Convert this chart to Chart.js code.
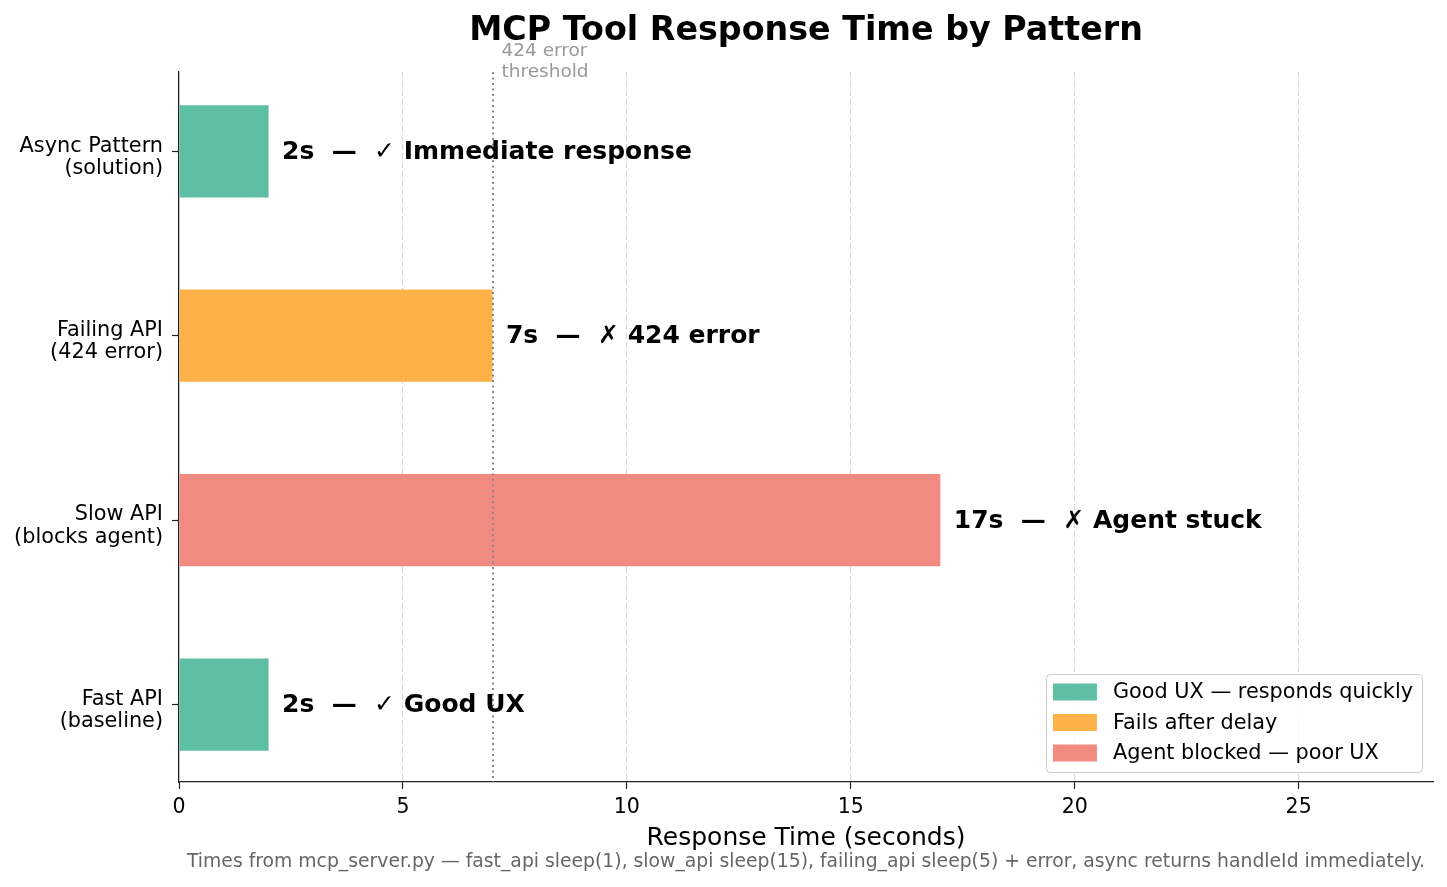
<!DOCTYPE html>
<html>
<head>
<meta charset="utf-8">
<title>MCP Tool Response Time by Pattern</title>
<script src="https://cdn.jsdelivr.net/npm/chart.js@4.4.1/dist/chart.umd.min.js"></script>
<style>
	html, body { margin: 0; padding: 0; background: #fff; }
	#wrap { width: 1447px; height: 887px; }
</style>
</head>
<body>
<div id="wrap"><canvas id="chart" width="1447" height="887"></canvas></div>
<script>
// bottom to top, same order as the y positions 0..3
const patterns = [
	"Fast API\n(baseline)",
	"Slow API\n(blocks agent)",
	"Failing API\n(424 error)",
	"Async Pattern\n(solution)",
];
const responseSeconds = [2, 17, 7, 2];
const outcomes = ["✓ Good UX", "✗ Agent stuck", "✗ 424 error", "✓ Immediate response"];
const barColors = ["#5ebfa5", "#f18b81", "#feb148", "#5ebfa5"];

const xTicks = [0, 5, 10, 15, 20, 25];
const xMax = 28;

const thresholdSeconds = 7;
const thresholdLabel = ["424 error", "threshold"];

const legendLabels = ["Good UX — responds quickly", "Fails after delay", "Agent blocked — poor UX"];
const legendColors = ["#5ebfa5", "#feb148", "#f18b81"];

const chartTitle = "MCP Tool Response Time by Pattern";
const footnote = "Times from mcp_server.py — fast_api sleep(1), slow_api sleep(15), failing_api sleep(5) + error, async returns handleId immediately.";

const FONT = '"DejaVu Sans", "Liberation Sans", sans-serif';
Chart.defaults.font.family = FONT;
Chart.defaults.color = "#000";

const overlay = {
	id: "overlay",
	afterDatasetsDraw(chart) {
		const { ctx, chartArea, scales } = chart;
		const { x, y } = scales;

		// threshold line
		const tx = Math.round(x.getPixelForValue(thresholdSeconds));
		ctx.save();
		ctx.strokeStyle = "#888888";
		ctx.lineWidth = 2;
		ctx.setLineDash([2, 3.5]);
		ctx.beginPath();
		ctx.moveTo(tx, chartArea.top);
		ctx.lineTo(tx, chartArea.bottom);
		ctx.stroke();
		ctx.restore();

		ctx.save();
		ctx.font = `18.5px ${FONT}`;
		ctx.fillStyle = "#999";
		ctx.textAlign = "left";
		ctx.textBaseline = "middle";
		const lx = x.getPixelForValue(thresholdSeconds + 0.2);
		thresholdLabel.forEach((t, i) => {
			ctx.fillText(t, lx, chartArea.top - 21 + i * 21);
		});
		ctx.restore();

		// value labels next to bars
		ctx.save();
		ctx.font = `bold 25px ${FONT}`;
		ctx.fillStyle = "#000";
		ctx.textAlign = "left";
		ctx.textBaseline = "middle";
		responseSeconds.forEach((v, i) => {
			ctx.fillText(`${v}s  —  ${outcomes[i]}`, x.getPixelForValue(v + 0.3), y.getPixelForValue(i) + 1);
		});
		ctx.restore();
	},
	afterDraw(chart) {
		const { ctx, chartArea } = chart;
		const cx = (chartArea.left + chartArea.right) / 2;

		ctx.save();
		ctx.textAlign = "center";
		ctx.textBaseline = "middle";
		ctx.fillStyle = "#000";
		ctx.font = `bold 33.3px ${FONT}`;
		ctx.fillText(chartTitle, cx, 31);

		ctx.fillStyle = "#666";
		ctx.font = `18.8px ${FONT}`;
		ctx.fillText(footnote, cx, 862);
		ctx.restore();

		// legend, lower right inside the axes
		ctx.save();
		ctx.font = `20.8px ${FONT}`;
		const textW = Math.max(...legendLabels.map((t) => ctx.measureText(t).width));
		const pad = 7, handleW = 44, handleH = 17, gap = 16;
		const boxW = pad + handleW + gap + textW + pad + 2;
		const boxH = 98;
		const right = chartArea.right - 11;
		const bottom = chartArea.bottom - 10;
		const left = right - boxW;
		const top = bottom - boxH;

		ctx.fillStyle = "rgba(255,255,255,0.85)";
		ctx.strokeStyle = "#cccccc";
		ctx.lineWidth = 1;
		ctx.beginPath();
		ctx.roundRect(left + 0.5, top + 0.5, boxW, boxH, 4);
		ctx.fill();
		ctx.stroke();

		ctx.textAlign = "left";
		ctx.textBaseline = "middle";
		legendLabels.forEach((label, i) => {
			const cy = top + 18 + i * 30.5;
			ctx.fillStyle = legendColors[i];
			ctx.fillRect(left + pad, cy - handleH / 2, handleW, handleH);
			ctx.fillStyle = "#000";
			ctx.fillText(label, left + pad + handleW + gap, cy + 1);
		});
		ctx.restore();
	},
};

new Chart(document.getElementById("chart").getContext("2d"), {
	type: "bar",
	data: {
		datasets: [
			{
				data: responseSeconds.map((v, i) => ({ x: v, y: i })),
				backgroundColor: barColors,
				borderWidth: 0,
				categoryPercentage: 0.5,
				barPercentage: 1,
			},
		],
	},
	options: {
		indexAxis: "y",
		responsive: false,
		animation: false,
		layout: { padding: { top: 72, right: 14, bottom: 34, left: 0 } },
		plugins: {
			legend: { display: false },
			title: { display: false },
			tooltip: { enabled: false },
		},
		scales: {
			x: {
				type: "linear",
				min: 0,
				max: xMax,
				bounds: "data",
				afterBuildTicks: (s) => {
					s.ticks = xTicks.map((v) => ({ value: v }));
				},
				grid: {
					color: (c) => (c.tick && c.tick.value === 0 ? "rgba(0,0,0,0)" : "#d6d6d6"),
					lineWidth: 1,
					tickColor: "#222",
					tickLength: 7,
					tickWidth: 1.2,
				},
				border: { color: "#222", width: 1.3, dash: [6, 3] },
				ticks: { color: "#000", font: { size: 20.5 }, padding: 6 },
				title: {
					display: true,
					text: "Response Time (seconds)",
					color: "#000",
					font: { size: 25 },
					padding: { top: 0, bottom: 0 },
				},
				afterFit: (s) => {
					s.height = 71;
				},
			},
			y: {
				type: "linear",
				min: -0.42,
				max: 3.43,
				bounds: "data",
				offset: false,
				afterBuildTicks: (s) => {
					s.ticks = patterns.map((_, i) => ({ value: i }));
				},
				grid: {
					drawOnChartArea: false,
					offset: false,
					tickColor: "#222",
					tickLength: 7,
					tickWidth: 1.2,
				},
				border: { color: "#222", width: 1.3 },
				ticks: {
					color: "#000",
					font: { size: 20.8, lineHeight: 1.07 },
					padding: 9,
					labelOffset: 6,
					callback: (v) => (patterns[v] ? patterns[v].split("\n") : ""),
				},
				afterFit: (s) => {
					s.width = 179;
				},
			},
		},
	},
	plugins: [overlay],
});
</script>
</body>
</html>
